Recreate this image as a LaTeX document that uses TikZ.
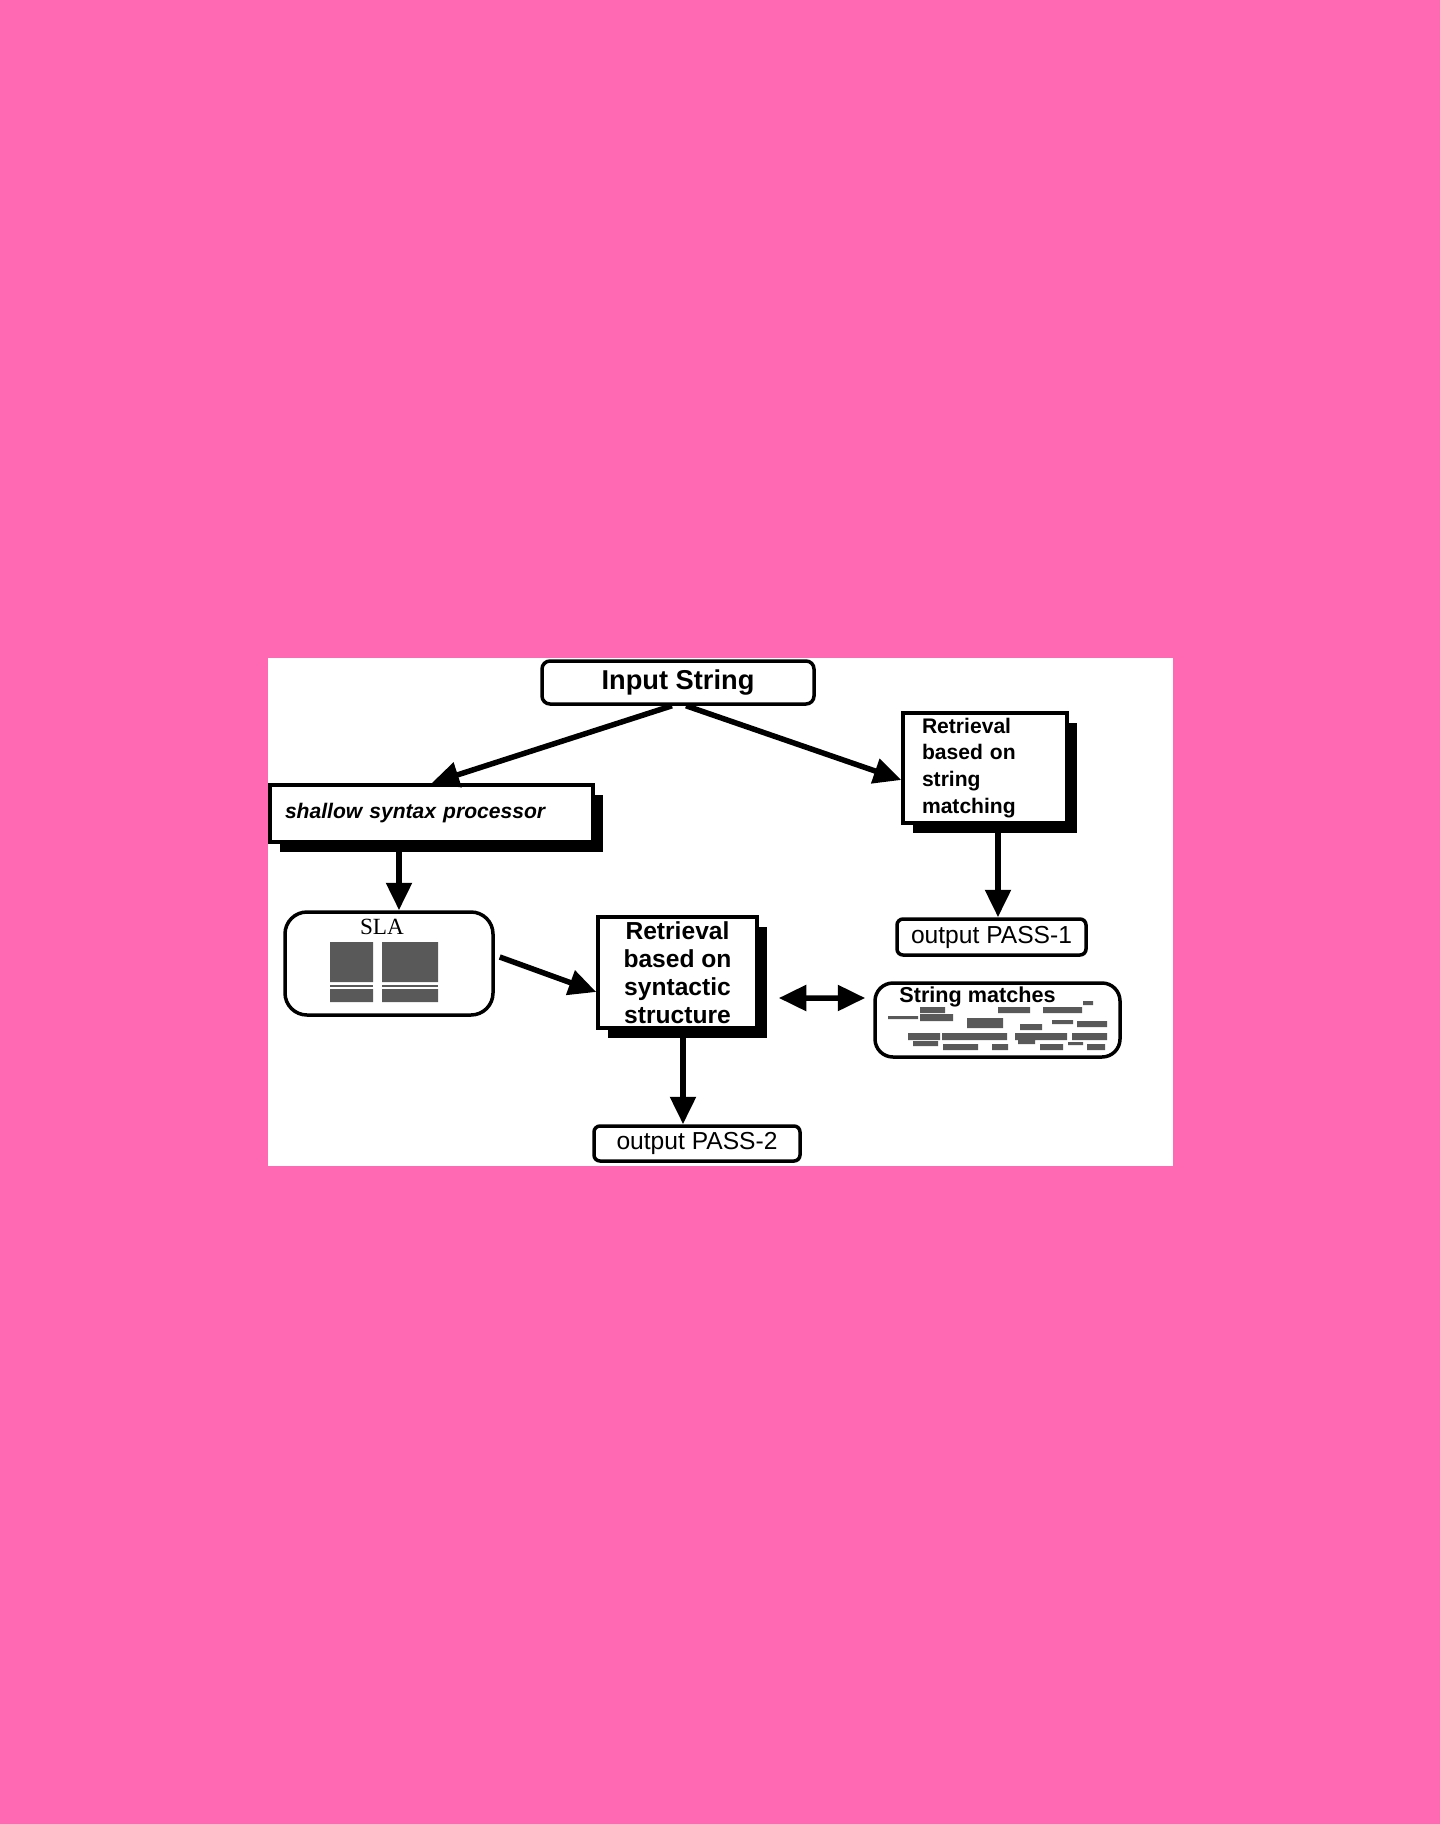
\documentclass[tikz,border=0pt]{standalone}
\usepackage{fontspec}
\setmainfont{Liberation Sans}
\newfontfamily\slafont{Liberation Serif}
\usetikzlibrary{arrows.meta,positioning,shadows}
\definecolor{bgpink}{RGB}{255,105,180}
\tikzset{
  box/.style={draw=black, line width=0.7mm, fill=white, inner sep=0pt},
  shadowbox/.style={box, drop shadow={shadow xshift=1.9mm, shadow yshift=-1.9mm, fill=black, opacity=1}},
  roundbox/.style={box, rounded corners=1.6mm},
  arr/.style={line width=1.1mm, ->},
  blob/.style={fill=black!65}
}

\begin{document}
\begin{tikzpicture}[x=0.2mm, y=-0.2mm, >={Triangle[length=5.5mm,width=5mm]}]
  \path[use as bounding box, fill=bgpink] (0,0) rectangle (1440,1824);
  \fill[white] (267.5,658) rectangle (1172.5,1165.5);

  \node (input) [roundbox, minimum width=54.4mm, minimum height=8.6mm, font=\fontsize{15.5}{18}\selectfont\bfseries] at (678,682.5) {Input String};
  \node (ssp) [shadowbox, minimum width=64.6mm, minimum height=11.4mm, text width=58.6mm, align=left, font=\fontsize{12}{14}\selectfont\bfseries\itshape] at (431.5,813.5) {shallow syntax processor};
  \node (rsm) [shadowbox, minimum width=32.8mm, minimum height=22mm, text width=25.2mm, align=left, font=\fontsize{12}{15.3}\selectfont\bfseries] at (985,768) {Retrieval\\based on\\string\\matching};
  \node (out1) [roundbox, rounded corners=1.2mm, minimum width=37.8mm, minimum height=7.2mm, font=\fontsize{14}{16}\selectfont] at (991.5,937) {output PASS-1};

  \node (sla) [roundbox, rounded corners=4.4mm, minimum width=41.6mm, minimum height=20.6mm] at (389,963.5) {};
  \node (slatitle) [inner sep=0pt, font=\slafont\fontsize{13.2}{15}\selectfont] at (382,927) {SLA};
  % grey text blocks inside SLA
  \fill[blob] (330,942) rectangle (373,982) (330,989) rectangle (373,1002)
              (382,942) rectangle (438,982) (382,989) rectangle (438,1002);
  \draw[black!65, line width=0.4mm] (330,985.5) -- (373,985.5) (382,985.5) -- (438,985.5);

  \node (rss) [shadowbox, minimum width=31.8mm, minimum height=22.2mm, align=center, font=\fontsize{14}{16}\selectfont\bfseries] at (677.5,972.5) {Retrieval\\based on\\syntactic\\structure};

  \node (smatch) [roundbox, rounded corners=3.6mm, minimum width=49mm, minimum height=14.8mm] at (997.5,1020) {};
  \node (smtitle) [inner sep=0pt, font=\fontsize{12.3}{14}\selectfont\bfseries] at (977.5,997) {String matches};
  % small blurred matches
  \fill[blob] (920,1007) rectangle (945,1013) (998,1007) rectangle (1030,1013)
    (1043,1007) rectangle (1082,1013) (1083,1001) rectangle (1093,1005)
    (888,1016) rectangle (918,1019) (920,1014) rectangle (953,1021)
    (967,1018) rectangle (1003,1028) (1052,1020) rectangle (1073,1024)
    (1077,1021) rectangle (1107,1027) (1020,1024) rectangle (1042,1030)
    (908,1033) rectangle (940,1040) (942,1033) rectangle (1007,1040)
    (1015,1033) rectangle (1067,1040) (1072,1033) rectangle (1107,1040)
    (913,1041) rectangle (938,1046) (943,1044) rectangle (978,1050)
    (992,1044) rectangle (1008,1050) (1018,1039) rectangle (1035,1044)
    (1040,1044) rectangle (1063,1050) (1068,1042) rectangle (1083,1045)
    (1087,1044) rectangle (1105,1050);

  \node (out2) [roundbox, rounded corners=1.2mm, minimum width=41.2mm, minimum height=7mm, font=\fontsize{14}{16}\selectfont] at (697,1143.5) {output PASS-2};

  \draw[arr] ([xshift=-1.2mm]input.south) -- (ssp.north);
  \draw[arr] ([xshift=1.6mm]input.south) -- ([yshift=-2.4mm]rsm.west);
  \draw[arr] ([xshift=-6.5mm]ssp.south) -- ([xshift=-6.5mm]ssp.south |- sla.north);
  \draw[arr] ([xshift=2.6mm]rsm.south) -- ([xshift=2.6mm]rsm.south |- out1.north);
  \draw[arr] ([xshift=1mm,yshift=1.3mm]sla.east) -- ([yshift=-3.9mm]rss.west);
  \draw[arr, <->] ([xshift=4mm,yshift=-5.1mm]rss.east) -- ([xshift=-1.6mm,yshift=4.4mm]smatch.west);
  \draw[arr] ([xshift=1.1mm]rss.south) -- ([xshift=1.1mm]rss.south |- out2.north);
\end{tikzpicture}
\end{document}
